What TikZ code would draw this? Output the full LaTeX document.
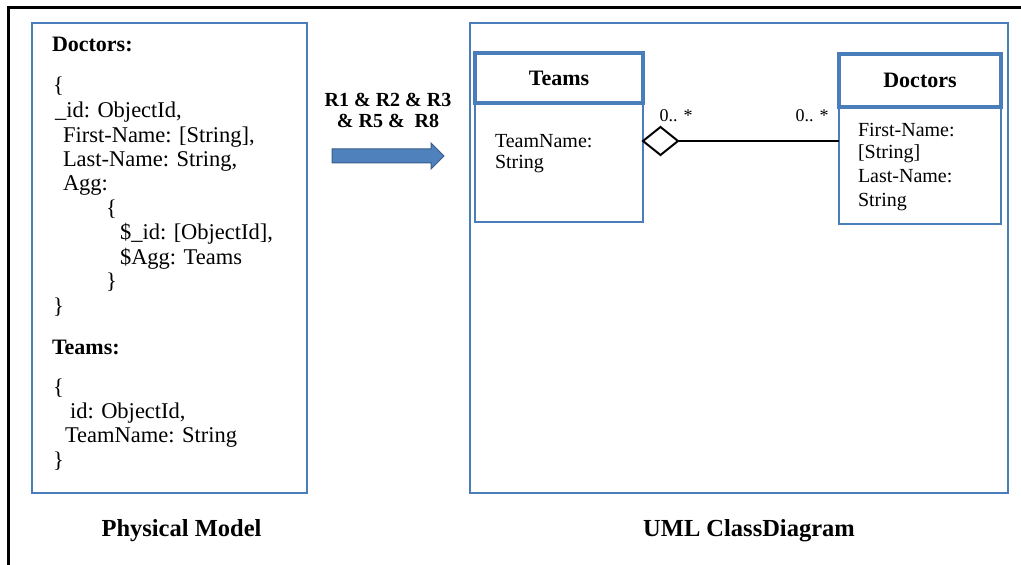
\documentclass[tikz,border=0pt]{standalone}
\usepackage{fontspec}
\setmainfont{Liberation Serif}
\usetikzlibrary{shapes.geometric,positioning}
\definecolor{boxblue}{RGB}{74,126,187}
\definecolor{arrowblue}{RGB}{79,129,189}
\definecolor{arrowedge}{RGB}{56,93,138}

\begin{document}
\begin{tikzpicture}[x=0.5pt,y=-0.5pt,
  every node/.style={inner sep=0pt,outer sep=0pt},
  panel/.style={draw=boxblue,line width=1pt,minimum height=235pt},
  classhead/.style={draw=boxblue,line width=1.6pt,fill=white,
    font=\fontsize{11}{13}\selectfont\bfseries},
  classbody/.style={draw=boxblue,line width=1pt},
  attr/.style={anchor=base west,font=\fontsize{10}{11}\selectfont},
  code/.style={anchor=base west,font=\fontsize{11.25}{12.5}\selectfont},
  heading/.style={anchor=base west,font=\fontsize{11}{13}\selectfont\bfseries},
  rule/.style={anchor=base,font=\fontsize{10}{12}\selectfont\bfseries},
  mult/.style={anchor=base,font=\fontsize{9}{11}\selectfont},
  caption/.style={anchor=base,font=\fontsize{12.25}{14}\selectfont\bfseries}]
\useasboundingbox (0,0) rectangle (1021,565);
\draw[line width=1.5pt] (8,565) -- (8,8) -- (1021,8);

\node[panel,minimum width=137.5pt] (phys) at (169.5,258) {};
\node[panel,minimum width=269pt] (uml) at (739,258) {};

\node[heading] (hdoc) at (52,52) {Doctors:};
\foreach \x/\y/\t [count=\i] in {53/93/{\{},55/118/{\_id: ObjectId,},
    63/143/{First-Name: [String],},63/167/{Last-Name: String,},63/191/{Agg:},
    106/216/{\{},120/240/{\$\_id: [ObjectId],},120/265/{\$Agg: Teams},
    106/289/{\}},53/314/{\}}}
  \node[code] (d\i) at (\x,\y) {\t};
\node[heading] (hteam) at (52,355) {Teams:};
\foreach \x/\y/\t [count=\i] in {53/395/{\{},70/419/{id: ObjectId,},
    65/443/{TeamName: String},53/468/{\}}}
  \node[code] (t\i) at (\x,\y) {\t};

\node[rule] (r1) at (388,107) {R1 \& R2 \& R3};
\node[rule] (r2) at (388,128) {\& R5 \&\ \ R8};
\draw[draw=arrowedge,fill=arrowblue,line width=0.5pt]
  (332,149) -- (431,149) -- (431,143) -- (444,156) -- (431,169)
  -- (431,163) -- (332,163) -- cycle;

\node[classbody,minimum width=84pt,minimum height=59.5pt,anchor=north]
  (teambody) at (559,103) {};
\node[classhead,minimum width=84pt,minimum height=25pt,anchor=south]
  (teamhead) at (teambody.north) {Teams};
\node[attr] (ta1) at (495,148) {TeamName:};
\node[attr] (ta2) at (495,169) {String};

\node[classbody,minimum width=81pt,minimum height=58.5pt,anchor=north]
  (docbody) at (920,107) {};
\node[classhead,minimum width=81pt,minimum height=26.5pt,anchor=south]
  (dochead) at (docbody.north) {Doctors};
\node[attr] (da1) at (858,137) {First-Name:};
\node[attr] (da2) at (858,159) {[String]};
\node[attr] (da3) at (858,183) {Last-Name:};
\node[attr] (da4) at (858,207) {String};

\node[draw,diamond,line width=1pt,fill=white,minimum width=17.5pt,
  minimum height=14pt,anchor=west] (agg) at (643,141) {};
\draw[line width=1pt] (agg.east) -- (agg.east -| docbody.west);
\node[mult] (m1) at (676,122) {0.. *};
\node[mult] (m2) at (812,122) {0.. *};

\node[caption] (cphys) at (181.5,537) {Physical Model};
\node[caption] (cuml) at (749,537) {UML ClassDiagram};
\end{tikzpicture}
\end{document}
